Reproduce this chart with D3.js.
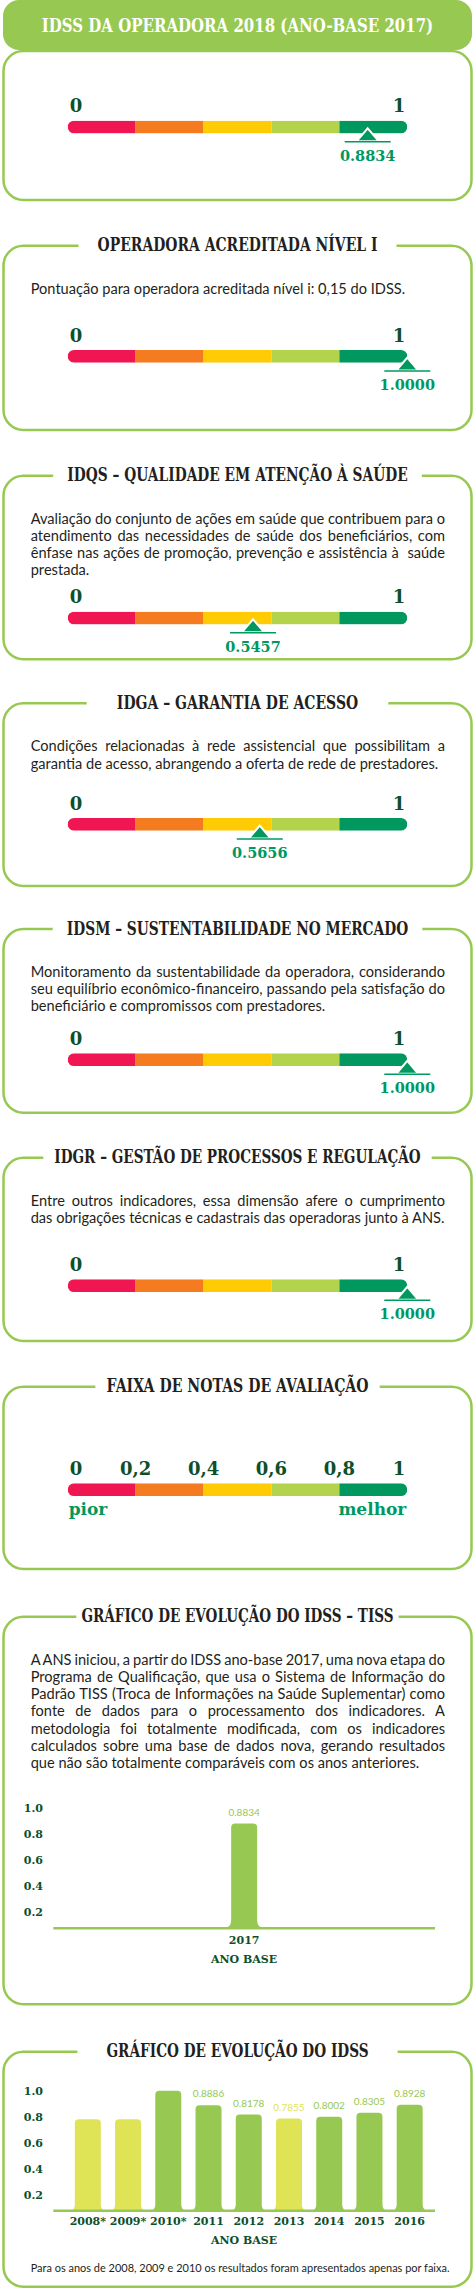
<!DOCTYPE html>
<html>
<head>
<meta charset="utf-8">
<script src="https://cdn.jsdelivr.net/npm/d3@7"></script>
<style>
  body { margin: 0; background: #fff; }
  svg { display: block; }
  .title { font-family: 'DejaVu Serif', serif; font-weight: bold; font-size: 19px; fill: #231f20; }
  .para { font-family: Lato, sans-serif; font-size: 14.6px; fill: #231f20; }
  .end-label { font-family: 'DejaVu Serif', serif; font-weight: bold; font-size: 18px; fill: #0d4f2b; }
  .value-label { font-family: 'DejaVu Serif', serif; font-weight: bold; font-size: 14.5px; fill: #00985f; }
  .faixa-word { font-family: 'DejaVu Serif', serif; font-weight: bold; font-size: 17px; fill: #00985f; }
  .axis text { font-family: 'DejaVu Serif', serif; font-weight: bold; fill: #0d4f2b; }
  .bar-label { font-family: Lato, sans-serif; font-size: 10px; }
  .foot { font-family: Lato, sans-serif; font-size: 12px; fill: #231f20; }
</style>
</head>
<body>
<svg id="chart" width="475" height="2290"></svg>
<script>
'use strict';

// Section titles, top to bottom
var sectionTitles = [
  'IDSS DA OPERADORA 2018 (ANO-BASE 2017)',
  'OPERADORA ACREDITADA NÍVEL I',
  'IDQS – QUALIDADE EM ATENÇÃO À SAÚDE',
  'IDGA – GARANTIA DE ACESSO',
  'IDSM – SUSTENTABILIDADE NO MERCADO',
  'IDGR – GESTÃO DE PROCESSOS E REGULAÇÃO',
  'FAIXA DE NOTAS DE AVALIAÇÃO',
  'GRÁFICO DE EVOLUÇÃO DO IDSS – TISS',
  'GRÁFICO DE EVOLUÇÃO DO IDSS'
];

// Description lines per section (null = no text). Trailing line is left aligned.
var sectionTexts = [
  null,
  [ 'Pontuação para operadora acreditada nível i: 0,15 do IDSS.' ],
  [ 'Avaliação do conjunto de ações em saúde que contribuem para o',
    'atendimento das necessidades de saúde dos beneficiários, com',
    'ênfase nas ações de promoção, prevenção e assistência à  saúde',
    'prestada.' ],
  [ 'Condições relacionadas à rede assistencial que possibilitam a',
    'garantia de acesso, abrangendo a oferta de rede de prestadores.' ],
  [ 'Monitoramento da sustentabilidade da operadora, considerando',
    'seu equilíbrio econômico-financeiro, passando pela satisfação do',
    'beneficiário e compromissos com prestadores.' ],
  [ 'Entre outros indicadores, essa dimensão afere o cumprimento',
    'das obrigações técnicas e cadastrais das operadoras junto à ANS.' ],
  null,
  [ 'A ANS iniciou, a partir do IDSS ano-base 2017, uma nova etapa do',
    'Programa de Qualificação, que usa o Sistema de Informação do',
    'Padrão TISS (Troca de Informações na Saúde Suplementar) como',
    'fonte de dados para o processamento dos indicadores. A',
    'metodologia foi totalmente modificada, com os indicadores',
    'calculados sobre uma base de dados nova, gerando resultados',
    'que não são totalmente comparáveis com os anos anteriores.' ],
  null
];

// Indicator scores (sections 1-6)
var indicatorValues = [ 0.8834, 1.0, 0.5457, 0.5656, 1.0, 1.0 ];
var indicatorLabels = [ '0.8834', '1.0000', '0.5457', '0.5656', '1.0000', '1.0000' ];

// Colour bands of the 0..1 scale
var bandEdges = [ 0, 0.2, 0.4, 0.6, 0.8, 1 ];
var bandColors = [ '#ef1651', '#f47b20', '#ffcb05', '#b3d34d', '#00985f' ];
var endLabels = [ '0', '1' ];
var faixaLabels = [ '0', '0,2', '0,4', '0,6', '0,8', '1' ];
var faixaWords = [ 'pior', 'melhor' ];

// Evolution charts
var tissYears = [ '2017' ];
var tissValues = [ 0.8834 ];
var tissLabels = [ '0.8834' ];

var idssYears = [ '2008*', '2009*', '2010*', '2011', '2012', '2013', '2014', '2015', '2016' ];
var idssValues = [ 0.78, 0.78, 1.0, 0.8886, 0.8178, 0.7855, 0.8002, 0.8305, 0.8928 ];
var idssLabels = [ '', '', '', '0.8886', '0.8178', '0.7855', '0.8002', '0.8305', '0.8928' ];

var yTicks = [ 0.2, 0.4, 0.6, 0.8, 1.0 ];
var axisTitle = 'ANO BASE';
var footnote = 'Para os anos de 2008, 2009 e 2010 os resultados foram apresentados apenas por faixa.';

// Panel layout: box top/bottom, title width, gap padding, bar top
var panels = [
  { top: 51, bottom: 200, tw: 391.6, pad: 0, bar: 120.7 },
  { top: 245.7, bottom: 430, tw: 280, pad: 19, bar: 350 },
  { top: 475.7, bottom: 659.3, tw: 340.6, pad: 14, bar: 611.7 },
  { top: 703.3, bottom: 886, tw: 241.6, pad: 30, bar: 818 },
  { top: 929, bottom: 1112.7, tw: 341.6, pad: 14, bar: 1053.3 },
  { top: 1157.7, bottom: 1341, tw: 366.4, pad: 11, bar: 1279.3 },
  { top: 1386.7, bottom: 1569, tw: 262.3, pad: 11, bar: 1483.3 },
  { top: 1616.7, bottom: 2004.3, tw: 312.3, pad: 5 },
  { top: 2051.7, bottom: 2286.7, tw: 262.3, pad: 29 }
];

var green = '#97c952';
var boxL = 3.5, boxR = 471.5, boxRad = 20;
var cx = 237.5;
var textL = 30.7, textR = 445;
var lineH = 17.2;

var svg = d3.select( '#chart' );
var defs = svg.append( 'defs' );

// Value scale shared by all colour bars
var x = d3.scaleLinear().domain( [ 0, 1 ] ).range( [ 67.7, 407.3 ] );
var barH = 12.7;

// Box outline with a gap in the top edge for the title
function boxPath( t, b, g0, g1 ) {
  var p = d3.path();
  if ( g0 == null ) p.moveTo( boxL + boxRad, t );
  else p.moveTo( g1, t );
  p.lineTo( boxR - boxRad, t );
  p.arcTo( boxR, t, boxR, t + boxRad, boxRad );
  p.lineTo( boxR, b - boxRad );
  p.arcTo( boxR, b, boxR - boxRad, b, boxRad );
  p.lineTo( boxL + boxRad, b );
  p.arcTo( boxL, b, boxL, b - boxRad, boxRad );
  p.lineTo( boxL, t + boxRad );
  p.arcTo( boxL, t, boxL + boxRad, t, boxRad );
  if ( g0 == null ) p.closePath();
  else p.lineTo( g0, t );
  return p.toString();
}

// Bar with rounded top and flared foot
function barPath( x0, w, yTop, yb, r, f ) {
  var x1 = x0 + w;
  var p = d3.path();
  p.moveTo( x0 - f, yb );
  p.quadraticCurveTo( x0, yb, x0, yb - f );
  p.lineTo( x0, yTop + r );
  p.quadraticCurveTo( x0, yTop, x0 + r, yTop );
  p.lineTo( x1 - r, yTop );
  p.quadraticCurveTo( x1, yTop, x1, yTop + r );
  p.lineTo( x1, yb - f );
  p.quadraticCurveTo( x1, yb, x1 + f, yb );
  p.closePath();
  return p.toString();
}

//
// PANELS
//

// Header band of the first panel
svg.append( 'rect' )
  .attr( 'x', 3 ).attr( 'y', 0 )
  .attr( 'width', 469 ).attr( 'height', 50 )
  .attr( 'rx', 16 )
  .attr( 'fill', green );

panels.forEach( function( pn, i ) {
  var g = svg.append( 'g' ).attr( 'class', 'panel' );
  var first = i === 0;

  g.append( 'path' )
    .attr( 'd', first ? boxPath( pn.top, pn.bottom ) :
      boxPath( pn.top, pn.bottom, cx - pn.tw / 2 - pn.pad, cx + pn.tw / 2 + pn.pad ) )
    .attr( 'fill', 'none' )
    .attr( 'stroke', green )
    .attr( 'stroke-width', 2.5 );

  // Title, squeezed horizontally to the slab face's narrow width
  var tg = g.append( 'g' )
    .attr( 'transform', 'translate(' + cx + ',' + ( first ? 32 : pn.top + 5.5 ) + ')' );
  var tt = tg.append( 'text' )
    .attr( 'class', 'title' )
    .attr( 'text-anchor', 'middle' )
    .style( 'fill', first ? '#fff' : null )
    .text( sectionTitles[ i ] );
  var sx = pn.tw / tt.node().getComputedTextLength();
  tt.attr( 'transform', 'scale(' + sx + ',1)' );

  // Justified description
  var lines = sectionTexts[ i ];
  if ( lines ) {
    var y0 = pn.top + 48;
    g.selectAll( '.para' )
      .data( lines )
      .enter().append( 'text' )
      .attr( 'class', 'para' )
      .attr( 'x', textL )
      .attr( 'y', function( d, j ) { return y0 + j * lineH; } )
      .attr( 'xml:space', 'preserve' )
      .text( function( d ) { return d; } )
      .each( function( d, j ) {
        if ( j === lines.length - 1 ) return;
        var natural = this.getComputedTextLength();
        var spaces = d.split( ' ' ).length - 1;
        if ( spaces > 0 ) {
          d3.select( this ).attr( 'word-spacing', ( textR - textL - natural ) / spaces );
        }
      } );
  }
} );

//
// COLOUR SCALE BARS
//

function drawScale( g, yBar, id ) {
  var bands = d3.range( bandColors.length ).map( function( k ) {
    return { a: bandEdges[ k ], b: bandEdges[ k + 1 ], c: bandColors[ k ] };
  } );

  defs.append( 'clipPath' ).attr( 'id', id )
    .append( 'rect' )
    .attr( 'x', x( 0 ) ).attr( 'y', yBar )
    .attr( 'width', x( 1 ) - x( 0 ) ).attr( 'height', barH )
    .attr( 'rx', barH / 2 );

  g.append( 'g' )
    .attr( 'clip-path', 'url(#' + id + ')' )
    .selectAll( 'rect' )
    .data( bands )
    .enter().append( 'rect' )
    .attr( 'x', function( d ) { return x( d.a ); } )
    .attr( 'y', yBar )
    .attr( 'width', function( d ) { return x( d.b ) - x( d.a ); } )
    .attr( 'height', barH )
    .attr( 'fill', function( d ) { return d.c; } );
}

function drawEnds( g, yBar ) {
  g.selectAll( '.end-label' )
    .data( endLabels )
    .enter().append( 'text' )
    .attr( 'class', 'end-label' )
    .attr( 'x', function( d, k ) { return x( k ); } )
    .attr( 'dx', function( d, k ) { return k ? -2 : 2; } )
    .attr( 'y', yBar - 8.4 )
    .attr( 'text-anchor', function( d, k ) { return k ? 'end' : 'start'; } )
    .text( function( d ) { return d; } );
}

function drawMarker( g, yBar, v, label ) {
  var px = x( v );
  g.append( 'path' )
    .attr( 'd', 'M' + px + ',' + ( yBar + 7.6 ) +
      'L' + ( px + 11 ) + ',' + ( yBar + 20.5 ) +
      'L' + ( px - 11 ) + ',' + ( yBar + 20.5 ) + 'Z' )
    .attr( 'fill', '#00985f' )
    .attr( 'stroke', '#fff' )
    .attr( 'stroke-width', 2 )
    .attr( 'stroke-linejoin', 'miter' );
  g.append( 'line' )
    .attr( 'x1', px - 23 ).attr( 'x2', px + 23 )
    .attr( 'y1', yBar + 21 ).attr( 'y2', yBar + 21 )
    .attr( 'stroke', '#00985f' )
    .attr( 'stroke-width', 1.4 );
  g.append( 'text' )
    .attr( 'class', 'value-label' )
    .attr( 'x', px )
    .attr( 'y', yBar + 40 )
    .attr( 'text-anchor', 'middle' )
    .text( label );
}

indicatorValues.forEach( function( v, i ) {
  var g = svg.append( 'g' ).attr( 'class', 'indicator' );
  var yBar = panels[ i ].bar;
  drawScale( g, yBar, 'clip' + i );
  drawEnds( g, yBar );
  drawMarker( g, yBar, v, indicatorLabels[ i ] );
} );

// Faixa de notas
( function() {
  var g = svg.append( 'g' ).attr( 'class', 'faixa' );
  var yBar = panels[ 6 ].bar;
  drawScale( g, yBar, 'clipFaixa' );

  g.selectAll( '.end-label' )
    .data( faixaLabels )
    .enter().append( 'text' )
    .attr( 'class', 'end-label' )
    .attr( 'x', function( d, k ) { return x( bandEdges[ k ] ); } )
    .attr( 'dx', function( d, k ) { return k === 0 ? 2 : ( k === faixaLabels.length - 1 ? -2 : 0 ); } )
    .attr( 'y', yBar - 8.3 )
    .attr( 'text-anchor', function( d, k ) {
      return k === 0 ? 'start' : ( k === faixaLabels.length - 1 ? 'end' : 'middle' );
    } )
    .text( function( d ) { return d; } );

  g.selectAll( '.faixa-word' )
    .data( faixaWords )
    .enter().append( 'text' )
    .attr( 'class', 'faixa-word' )
    .attr( 'x', function( d, k ) { return x( k ); } )
    .attr( 'dx', function( d, k ) { return k ? -1 : 1; } )
    .attr( 'y', yBar + 31.7 )
    .attr( 'text-anchor', function( d, k ) { return k ? 'end' : 'start'; } )
    .text( function( d ) { return d; } );
} )();

//
// EVOLUTION BAR CHARTS
//

// Bands of 0.6-0.8 are drawn yellow, 0.8-1.0 green
var barColor = d3.scaleThreshold().domain( [ 0.8 ] ).range( [ '#dfe356', green ] );

function drawBars( opts ) {
  var g = svg.append( 'g' ).attr( 'class', 'bars' );
  var yb = opts.yb;

  var xb = d3.scaleBand()
    .domain( opts.years )
    .range( opts.range )
    .paddingInner( 0.35 )
    .paddingOuter( 0.175 );
  var y = d3.scaleLinear().domain( [ 0, 1 ] ).range( [ yb + 10, yb - 120 ] );
  var bw = 26;

  var data = opts.years.map( function( d, k ) {
    return { year: d, value: opts.values[ k ], label: opts.labels[ k ] };
  } );

  function cxOf( d ) { return xb( d.year ) + xb.bandwidth() / 2; }

  g.selectAll( '.bar' )
    .data( data )
    .enter().append( 'path' )
    .attr( 'class', 'bar' )
    .attr( 'd', function( d ) {
      return barPath( cxOf( d ) - bw / 2, bw, y( d.value ), yb, 4, opts.flare );
    } )
    .attr( 'fill', function( d ) { return barColor( d.value ); } );

  g.selectAll( '.bar-label' )
    .data( data )
    .enter().append( 'text' )
    .attr( 'class', 'bar-label' )
    .attr( 'x', cxOf )
    .attr( 'y', function( d ) { return y( d.value ) - 7.7; } )
    .attr( 'text-anchor', 'middle' )
    .attr( 'fill', function( d ) { return barColor( d.value ); } )
    .text( function( d ) { return d.label; } );

  // Base line
  g.append( 'line' )
    .attr( 'x1', 53.3 ).attr( 'x2', 435 )
    .attr( 'y1', yb ).attr( 'y2', yb )
    .attr( 'stroke', green )
    .attr( 'stroke-width', 2.6 );

  // Y axis
  var ya = g.append( 'g' )
    .attr( 'class', 'axis' )
    .attr( 'transform', 'translate(43,0)' )
    .call( d3.axisLeft( y ).tickValues( yTicks ).tickFormat( d3.format( '.1f' ) )
      .tickSize( 0 ).tickPadding( 0 ) );
  ya.select( '.domain' ).remove();
  ya.selectAll( 'text' ).style( 'font-size', '11px' );

  // X axis
  var xa = g.append( 'g' )
    .attr( 'class', 'axis' )
    .attr( 'transform', 'translate(0,' + yb + ')' )
    .call( d3.axisBottom( xb ).tickSize( 0 ).tickPadding( 0 ) );
  xa.select( '.domain' ).remove();
  xa.selectAll( 'text' )
    .attr( 'dy', null )
    .attr( 'y', opts.tickY )
    .style( 'font-size', '11px' );

  g.append( 'text' )
    .attr( 'class', 'axis-title' )
    .attr( 'x', 244 )
    .attr( 'y', yb + opts.titleY )
    .attr( 'text-anchor', 'middle' )
    .style( 'font-family', '\'DejaVu Serif\', serif' )
    .style( 'font-weight', 'bold' )
    .style( 'font-size', '11px' )
    .style( 'fill', '#0d4f2b' )
    .text( axisTitle );
}

drawBars( {
  years: tissYears, values: tissValues, labels: tissLabels,
  yb: 1928.3, range: [ 53.3, 435 ], flare: 8, tickY: 15.7, titleY: 34.4
} );

drawBars( {
  years: idssYears, values: idssValues, labels: idssLabels,
  yb: 2210.7, range: [ 67.7, 429.8 ], flare: 6, tickY: 14.3, titleY: 33.3
} );

// Footnote, sized to span the text column
var foot = svg.append( 'text' )
  .attr( 'class', 'foot' )
  .attr( 'x', textL )
  .attr( 'y', 2271.7 )
  .text( footnote );
var footW = foot.node().getComputedTextLength();
foot.style( 'font-size', ( 12 * 419 / footW ) + 'px' );
</script>
</body>
</html>
